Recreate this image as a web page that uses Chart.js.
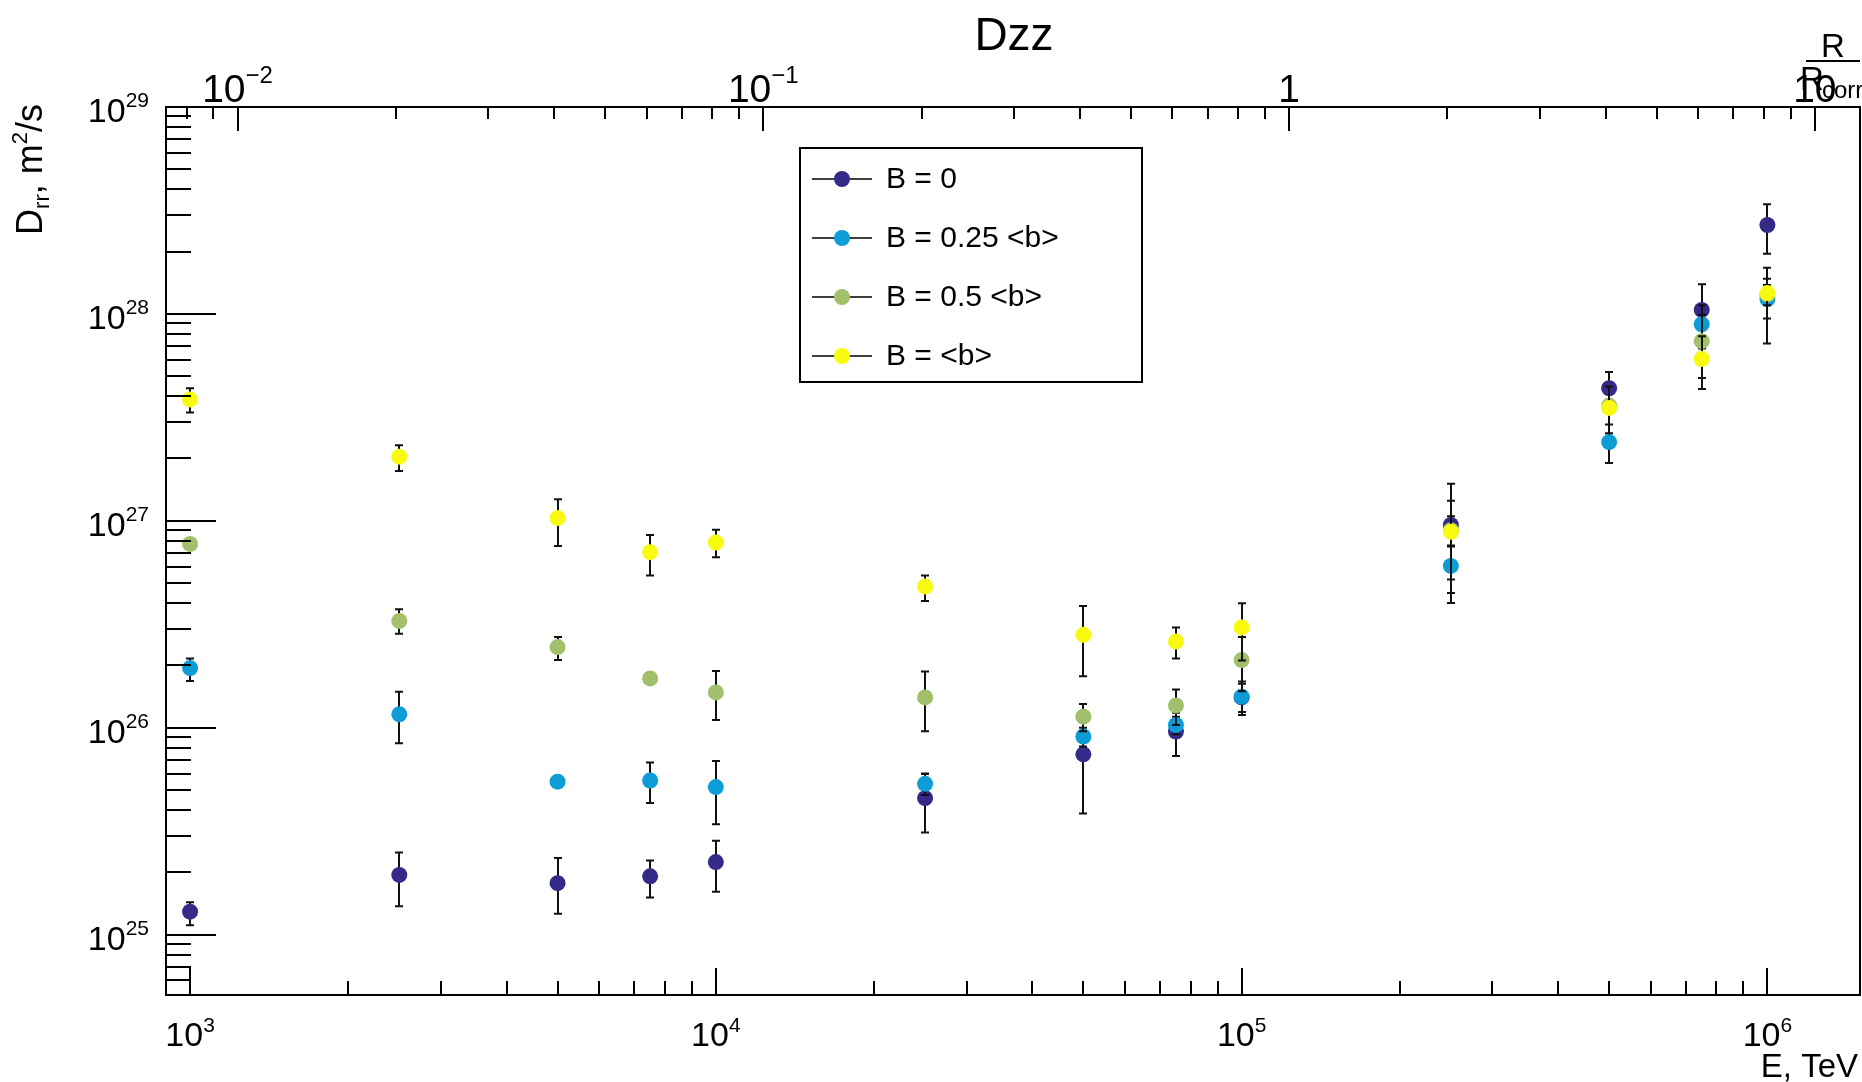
<!DOCTYPE html>
<html>
<head>
<meta charset="utf-8">
<title>Dzz</title>
<script src="https://cdn.jsdelivr.net/npm/chart.js@4.4.1/dist/chart.umd.min.js"></script>
<style>
  html, body { margin: 0; padding: 0; background: #fff; overflow: hidden; }
  #chart-dzz { display: block; }
</style>
</head>
<body>
<canvas id="chart-dzz" width="1862" height="1082"></canvas>
<script>
// Energy points, TeV
const energies = [1e3, 2.5e3, 5e3, 7.5e3, 1e4, 2.5e4, 5e4, 7.5e4, 1e5, 2.5e5, 5e5, 7.5e5, 1e6];

// D_rr, m^2/s, plus upper / lower ends of the error bars
const dB0   = [1.29e25, 1.94e25, 1.77e25, 1.91e25, 2.24e25, 4.56e25, 7.43e25, 9.57e25, 1.40e26, 9.55e26, 4.37e27, 1.045e28, 2.69e28];
const dB0Hi = [1.43e25, 2.49e25, 2.34e25, 2.28e25, 2.84e25, 6.0e25, 1.15e26, 1.18e26, 1.67e26, 1.51e27, 5.24e27, 1.39e28, 3.39e28];
const dB0Lo = [1.11e25, 1.37e25, 1.26e25, 1.51e25, 1.61e25, 3.11e25, 3.85e25, 7.3e25, 1.15e26, 4.0e26, 3.5e27, 7.0e27, 1.95e28];

const dB025   = [1.94e26, 1.16e26, 5.48e25, 5.55e25, 5.16e25, 5.35e25, 9.06e25, 1.03e26, 1.41e26, 6.05e26, 2.40e27, 8.91e27, 1.18e28];
const dB025Hi = [2.16e26, 1.49e26, 5.7e25, 6.78e25, 6.9e25, 5.97e25, 1.0e26, 1.13e26, 1.63e26, 7.6e26, 2.92e27, 1.10e28, 1.48e28];
const dB025Lo = [1.68e26, 8.4e25, 5.26e25, 4.32e25, 3.41e25, 4.73e25, 8.1e25, 9.3e25, 1.19e26, 4.47e26, 1.90e27, 6.8e27, 9.5e27];

const dB05   = [7.73e26, 3.28e26, 2.45e26, 1.73e26, 1.48e26, 1.40e26, 1.13e26, 1.28e26, 2.12e26, 9.0e26, 3.6e27, 7.38e27, 1.24e28];
const dB05Hi = [7.95e26, 3.73e26, 2.74e26, 1.78e26, 1.88e26, 1.87e26, 1.30e26, 1.53e26, 2.74e26, 1.05e27, 3.85e27, 9.9e27, 1.38e28];
const dB05Lo = [7.5e26, 2.84e26, 2.12e26, 1.68e26, 1.09e26, 9.6e25, 9.6e25, 1.03e26, 1.50e26, 7.5e26, 3.35e27, 4.9e27, 1.1e28];

const dB1   = [3.86e27, 2.04e27, 1.03e27, 7.05e26, 7.84e26, 4.81e26, 2.81e26, 2.61e26, 3.05e26, 8.85e26, 3.51e27, 6.05e27, 1.26e28];
const dB1Hi = [4.37e27, 2.32e27, 1.27e27, 8.53e26, 9.04e26, 5.43e26, 3.87e26, 3.05e26, 3.99e26, 1.25e27, 4.45e27, 7.8e27, 1.67e28];
const dB1Lo = [3.34e27, 1.74e27, 7.55e26, 5.43e26, 6.67e26, 4.09e26, 1.77e26, 2.16e26, 2.11e26, 5.2e26, 2.65e27, 4.33e27, 7.2e27];

const seriesNames = ['B = 0', 'B = 0.25 <b>', 'B = 0.5 <b>', 'B = <b>'];
const seriesColors = ['#352a87', '#0d9cd5', '#a2bf6b', '#f8fa0f'];

// Axis ranges
const eMin = 900, eMax = 1.5e6;
const dMin = 5.1e24, dMax = 1e29;
const eToR = 1.231e5; // E / (R/Rcorr) for the top axis

// Labelled ticks: mantissa + exponent
const xMajor = [1e3, 1e4, 1e5, 1e6];
const xLabels = [['10', '3'], ['10', '4'], ['10', '5'], ['10', '6']];
const yMajor = [1e25, 1e26, 1e27, 1e28, 1e29];
const yLabels = [['10', '25'], ['10', '26'], ['10', '27'], ['10', '28'], ['10', '29']];
const rMajor = [0.01, 0.1, 1, 10];
const rLabels = [['10', '\u22122'], ['10', '\u22121'], ['1', ''], ['10', '']];

const FONT = '"Liberation Sans", Arial, Helvetica, sans-serif';

function minorTicks(min, max) {
  const out = [];
  for (let e = Math.floor(Math.log10(min)); e <= Math.ceil(Math.log10(max)); e++) {
    for (let m = 2; m <= 9; m++) {
      const v = m * Math.pow(10, e);
      if (v > min * 1.0001 && v < max * 0.9999) out.push(v);
    }
  }
  return out;
}

// parts: [text, fontSize, dy]
function drawRich(ctx, parts, x, y, align) {
  let total = 0;
  const widths = parts.map(p => {
    ctx.font = `${p[1]}px ${FONT}`;
    const w = ctx.measureText(p[0]).width;
    total += w;
    return w;
  });
  let cx = align === 'center' ? x - total / 2 : align === 'right' ? x - total : x;
  parts.forEach((p, i) => {
    ctx.font = `${p[1]}px ${FONT}`;
    ctx.fillText(p[0], cx, y + p[2]);
    cx += widths[i];
  });
}

function makeSet(i, vals, hi, lo, order) {
  return {
    label: seriesNames[i],
    data: energies.map((e, k) => ({ x: e, y: vals[k] })),
    errHi: hi,
    errLo: lo,
    order,
    pointRadius: 8,
    pointHoverRadius: 8,
    pointBorderWidth: 0,
    pointBackgroundColor: seriesColors[i],
    backgroundColor: seriesColors[i],
    borderColor: seriesColors[i],
    showLine: false,
  };
}

const rootStyle = {
  id: 'rootStyle',
  // error bars go under each series' own markers
  beforeDatasetDraw(chart, args) {
    const ds = chart.data.datasets[args.index];
    const { ctx, scales: { x, y } } = chart;
    ctx.save();
    ctx.strokeStyle = '#111';
    ctx.lineWidth = 2;
    ctx.beginPath();
    ds.data.forEach((p, i) => {
      const px = Math.round(x.getPixelForValue(p.x));
      const yh = y.getPixelForValue(ds.errHi[i]);
      const yl = y.getPixelForValue(ds.errLo[i]);
      ctx.moveTo(px, yh); ctx.lineTo(px, yl);
      ctx.moveTo(px - 4, yh); ctx.lineTo(px + 4, yh);
      ctx.moveTo(px - 4, yl); ctx.lineTo(px + 4, yl);
    });
    ctx.stroke();
    ctx.restore();
  },
  afterDraw(chart) {
    const { ctx, chartArea: a, scales } = chart;
    const x = scales.x, y = scales.y, r = scales.x2;
    ctx.save();
    ctx.strokeStyle = '#000';
    ctx.fillStyle = '#000';
    ctx.lineWidth = 2;
    ctx.textAlign = 'left';
    ctx.textBaseline = 'alphabetic';

    // frame
    ctx.strokeRect(a.left, a.top, a.right - a.left, a.bottom - a.top);

    // tick marks, all pointing inwards
    ctx.beginPath();
    yMajor.forEach(v => { const p = Math.round(y.getPixelForValue(v)); ctx.moveTo(a.left, p); ctx.lineTo(a.left + 50, p); });
    minorTicks(dMin, dMax).forEach(v => { const p = Math.round(y.getPixelForValue(v)); ctx.moveTo(a.left, p); ctx.lineTo(a.left + 25, p); });
    xMajor.forEach(v => { const p = Math.round(x.getPixelForValue(v)); ctx.moveTo(p, a.bottom); ctx.lineTo(p, a.bottom - 27); });
    minorTicks(eMin, eMax).forEach(v => { const p = Math.round(x.getPixelForValue(v)); ctx.moveTo(p, a.bottom); ctx.lineTo(p, a.bottom - 14); });
    rMajor.forEach(v => { const p = Math.round(r.getPixelForValue(v)); ctx.moveTo(p, a.top); ctx.lineTo(p, a.top + 24); });
    minorTicks(eMin / eToR, eMax / eToR).forEach(v => { const p = Math.round(r.getPixelForValue(v)); ctx.moveTo(p, a.top); ctx.lineTo(p, a.top + 12); });
    ctx.stroke();

    // tick labels
    yMajor.forEach((v, i) => {
      const p = y.getPixelForValue(v);
      drawRich(ctx, [[yLabels[i][0], 34, 0], [yLabels[i][1], 21, -15]], a.left - 17, p + 15, 'right');
    });
    xMajor.forEach((v, i) => {
      const p = x.getPixelForValue(v);
      drawRich(ctx, [[xLabels[i][0], 34, 0], [xLabels[i][1], 21, -14]], p, a.bottom + 51, 'center');
    });
    rMajor.forEach((v, i) => {
      const p = r.getPixelForValue(v);
      const parts = [[rLabels[i][0], 39, 0]];
      if (rLabels[i][1]) parts.push([rLabels[i][1], 24, -19]);
      drawRich(ctx, parts, p, a.top - 5, 'center');
    });

    // title
    ctx.font = `46px ${FONT}`;
    ctx.textAlign = 'center';
    ctx.fillText('Dzz', 1014, 50);

    // top axis title R / R_corr
    ctx.font = `33px ${FONT}`;
    ctx.fillText('R', 1833, 57);
    ctx.textAlign = 'left';
    ctx.fillText('R', 1800, 90);
    ctx.font = `24px ${FONT}`;
    ctx.fillText('corr', 1822, 98);
    ctx.beginPath();
    ctx.moveTo(1806, 61); ctx.lineTo(1860, 61);
    ctx.stroke();

    // x axis title
    drawRich(ctx, [['E, TeV', 33, 0]], 1858, 1077, 'right');

    // y axis title, rotated
    ctx.save();
    ctx.translate(42, 104);
    ctx.rotate(-Math.PI / 2);
    drawRich(ctx, [['D', 36, 0], ['rr', 22, 7], [', m', 36, 0], ['2', 22, -15], ['/s', 36, 0]], 0, 0, 'right');
    ctx.restore();

    // legend
    const lg = { left: 800, top: 148, right: 1142, bottom: 382 };
    ctx.fillStyle = '#fff';
    ctx.fillRect(lg.left, lg.top, lg.right - lg.left, lg.bottom - lg.top);
    ctx.strokeStyle = '#000';
    ctx.lineWidth = 2;
    ctx.strokeRect(lg.left, lg.top, lg.right - lg.left, lg.bottom - lg.top);
    seriesNames.forEach((name, i) => {
      const ly = 179 + i * 59;
      ctx.beginPath();
      ctx.lineWidth = 1.5;
      ctx.moveTo(812, ly); ctx.lineTo(872, ly);
      ctx.stroke();
      ctx.fillStyle = seriesColors[i];
      ctx.beginPath();
      ctx.arc(842, ly, 8, 0, Math.PI * 2);
      ctx.fill();
      ctx.fillStyle = '#000';
      ctx.font = `30px ${FONT}`;
      ctx.textBaseline = 'middle';
      ctx.fillText(name, 886, ly + 1);
      ctx.textBaseline = 'alphabetic';
    });

    ctx.restore();
  },
};

const logAxis = (min, max, position, fit) => ({
  type: 'logarithmic',
  position,
  min,
  max,
  ticks: { display: false },
  grid: { display: false },
  border: { display: false },
  afterFit: fit,
});

new Chart(document.getElementById('chart-dzz'), {
  type: 'scatter',
  data: {
    datasets: [
      makeSet(0, dB0, dB0Hi, dB0Lo, 4),
      makeSet(1, dB025, dB025Hi, dB025Lo, 3),
      makeSet(2, dB05, dB05Hi, dB05Lo, 2),
      makeSet(3, dB1, dB1Hi, dB1Lo, 1),
    ],
  },
  options: {
    responsive: false,
    animation: false,
    events: [],
    layout: { autoPadding: false, padding: { left: 0, top: 0, right: 2, bottom: 0 } },
    plugins: { legend: { display: false }, tooltip: { enabled: false }, title: { display: false } },
    scales: {
      x: logAxis(eMin, eMax, 'bottom', s => { s.height = 87; }),
      x2: logAxis(eMin / eToR, eMax / eToR, 'top', s => { s.height = 107; }),
      y: logAxis(dMin, dMax, 'left', s => { s.width = 166; }),
    },
  },
  plugins: [rootStyle],
});
</script>
</body>
</html>
